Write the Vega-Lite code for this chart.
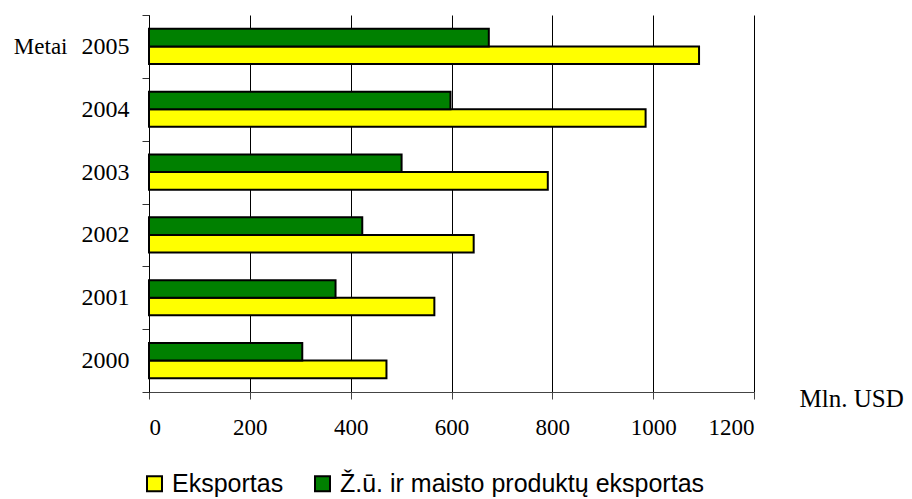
{
  "$schema": "https://vega.github.io/schema/vega-lite/v6.json",
  "autosize": {"type": "none"},
  "width": 605,
  "height": 377,
  "padding": {"left": 149, "top": 15, "right": 158, "bottom": 107},
  "background": "white",
  "config": {"view": {"stroke": null}},
  "data": {
    "values": [
      {"year": "2005", "series": "Eksportas", "value": 1091},
      {"year": "2005", "series": "Ž.ū. ir maisto produktų eksportas", "value": 674},
      {"year": "2004", "series": "Eksportas", "value": 985},
      {"year": "2004", "series": "Ž.ū. ir maisto produktų eksportas", "value": 598},
      {"year": "2003", "series": "Eksportas", "value": 791},
      {"year": "2003", "series": "Ž.ū. ir maisto produktų eksportas", "value": 501},
      {"year": "2002", "series": "Eksportas", "value": 644},
      {"year": "2002", "series": "Ž.ū. ir maisto produktų eksportas", "value": 423},
      {"year": "2001", "series": "Eksportas", "value": 566},
      {"year": "2001", "series": "Ž.ū. ir maisto produktų eksportas", "value": 370},
      {"year": "2000", "series": "Eksportas", "value": 471},
      {"year": "2000", "series": "Ž.ū. ir maisto produktų eksportas", "value": 304}
    ]
  },
  "mark": {"type": "bar", "stroke": "black", "strokeWidth": 2, "cornerRadius": 0},
  "encoding": {
    "y": {
      "field": "year",
      "type": "nominal",
      "sort": "descending",
      "scale": {"paddingInner": 0, "paddingOuter": 0},
      "axis": {
        "title": "Metai",
        "titleAngle": 0,
        "titleX": -82,
        "titleY": 31,
        "titleAlign": "right",
        "titleBaseline": "middle",
        "titleFont": "Liberation Serif",
        "titleFontSize": 23,
        "titleFontWeight": "normal",
        "titleColor": "black",
        "labelFont": "Liberation Serif",
        "labelFontSize": 24,
        "labelColor": "black",
        "labelPadding": 13,
        "tickBand": "extent",
        "tickSize": 7,
        "tickColor": "#333",
        "domainColor": "black",
        "grid": false
      }
    },
    "yOffset": {
      "field": "series",
      "type": "nominal",
      "sort": ["Ž.ū. ir maisto produktų eksportas", "Eksportas"],
      "scale": {"paddingInner": 0, "paddingOuter": 0.786}
    },
    "x": {
      "field": "value",
      "type": "quantitative",
      "scale": {"domain": [0, 1200], "nice": false},
      "axis": {
        "values": [0, 200, 400, 600, 800, 1000, 1200],
        "format": "d",
        "title": "Mln. USD",
        "titleX": 650,
        "titleY": 6,
        "titleAlign": "left",
        "titleBaseline": "middle",
        "titleFont": "Liberation Serif",
        "titleFontSize": 25,
        "titleFontWeight": "normal",
        "titleColor": "black",
        "labelFont": "Liberation Serif",
        "labelFontSize": 23,
        "labelColor": "black",
        "labelPadding": 17,
        "tickSize": 7,
        "tickColor": "#444",
        "domainColor": "#444",
        "grid": true,
        "gridColor": "black",
        "gridWidth": 1,
        "gridOpacity": 1
      }
    },
    "color": {
      "field": "series",
      "type": "nominal",
      "scale": {
        "domain": ["Eksportas", "Ž.ū. ir maisto produktų eksportas"],
        "range": ["#FFFF00", "#008000"]
      },
      "legend": {
        "title": null,
        "orient": "none",
        "direction": "horizontal",
        "legendX": -7,
        "legendY": 456,
        "symbolType": "square",
        "symbolSize": 225,
        "symbolStrokeColor": "black",
        "symbolStrokeWidth": 2,
        "symbolOpacity": 1,
        "labelFont": "Liberation Sans",
        "labelFontSize": 25,
        "labelColor": "black",
        "labelOffset": 5,
        "labelLimit": 600,
        "columnPadding": 26
      }
    }
  }
}
